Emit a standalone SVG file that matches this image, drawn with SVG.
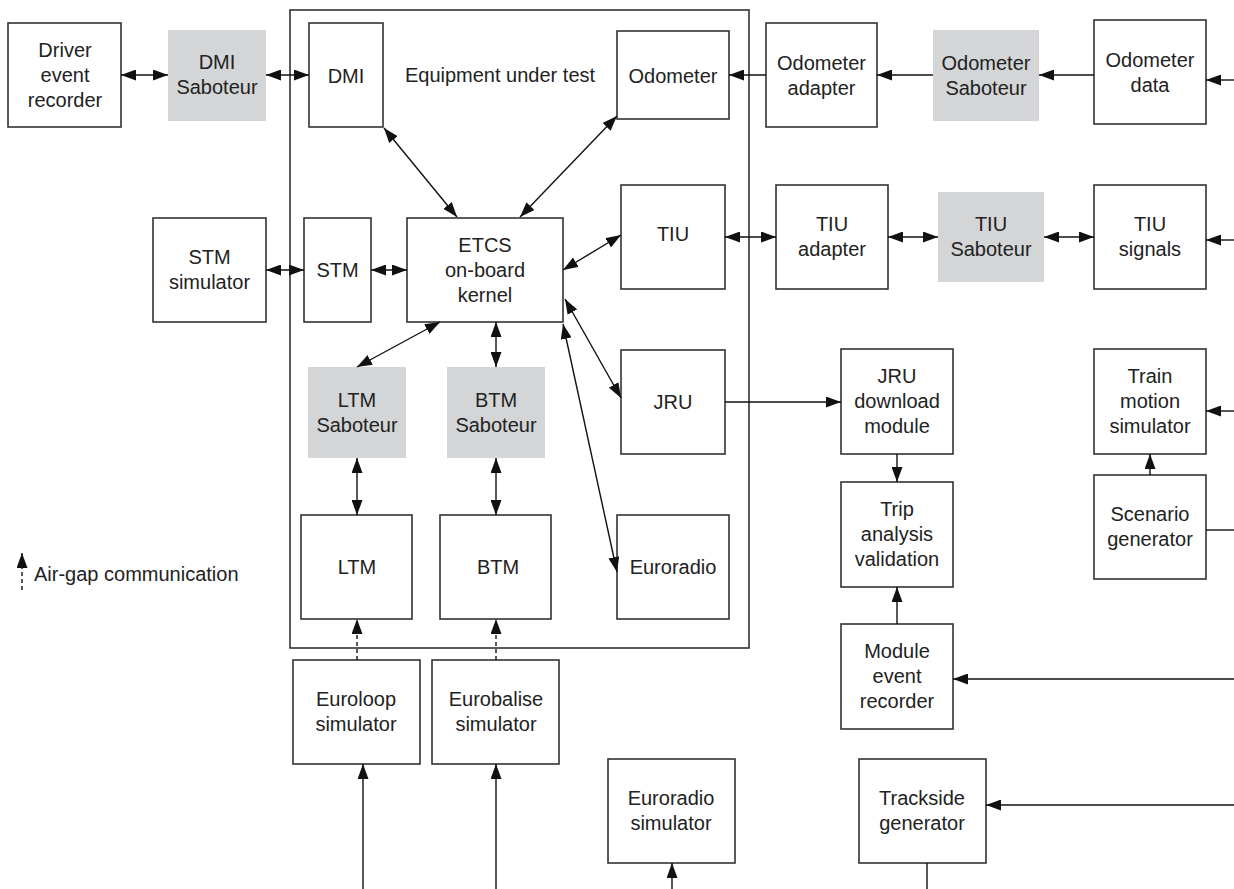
<svg xmlns="http://www.w3.org/2000/svg" width="1234" height="889" viewBox="0 0 1234 889">
<style>
.box{fill:#fff;stroke:#333;stroke-width:1.6}
.sab{fill:#d3d5d6;stroke:none}
.frame{fill:none;stroke:#333;stroke-width:1.6}
text{font-family:"Liberation Sans",Arial,sans-serif;font-size:20px;fill:#222;text-anchor:middle}
.c{stroke:#111;stroke-width:1.4;fill:none}
.d{stroke-dasharray:4 3}
</style>
<defs>
<marker id="ah" viewBox="0 0 15 11" refX="15" refY="5.5" markerWidth="15" markerHeight="11" markerUnits="userSpaceOnUse" orient="auto-start-reverse"><path d="M0,0 L15,5.5 L0,11 z" fill="#111"/></marker>
</defs>
<rect id="eut-frame" class="frame" x="290" y="10" width="459" height="638"/>
<text x="500" y="82">Equipment under test</text>
<g id="driver-event-recorder"><rect class="box" x="8" y="23" width="113" height="104"/><text x="65" y="57">Driver</text><text x="65" y="82">event</text><text x="65" y="107">recorder</text></g>
<g id="dmi-saboteur"><rect class="sab" x="168" y="30" width="98" height="91"/><text x="217" y="69">DMI</text><text x="217" y="94">Saboteur</text></g>
<g id="dmi"><rect class="box" x="309" y="23" width="74" height="104"/><text x="346" y="83">DMI</text></g>
<g id="odometer"><rect class="box" x="617" y="31" width="112" height="88"/><text x="673" y="83">Odometer</text></g>
<g id="odometer-adapter"><rect class="box" x="766" y="23" width="111" height="104"/><text x="821.5" y="70">Odometer</text><text x="821.5" y="95">adapter</text></g>
<g id="odometer-saboteur"><rect class="sab" x="933" y="30" width="106" height="91"/><text x="986" y="70">Odometer</text><text x="986" y="95">Saboteur</text></g>
<g id="odometer-data"><rect class="box" x="1094" y="20" width="112" height="104"/><text x="1150" y="67">Odometer</text><text x="1150" y="92">data</text></g>
<g id="stm-simulator"><rect class="box" x="153" y="218" width="113" height="104"/><text x="209.5" y="264">STM</text><text x="209.5" y="289">simulator</text></g>
<g id="stm"><rect class="box" x="304" y="218" width="67" height="104"/><text x="337.5" y="277">STM</text></g>
<g id="etcs-kernel"><rect class="box" x="407" y="218" width="156" height="104"/><text x="485" y="252">ETCS</text><text x="485" y="277">on-board</text><text x="485" y="302">kernel</text></g>
<g id="tiu"><rect class="box" x="621" y="185" width="104" height="104"/><text x="673" y="241">TIU</text></g>
<g id="tiu-adapter"><rect class="box" x="776" y="185" width="112" height="104"/><text x="832" y="231">TIU</text><text x="832" y="256">adapter</text></g>
<g id="tiu-saboteur"><rect class="sab" x="938" y="192" width="106" height="90"/><text x="991" y="231">TIU</text><text x="991" y="256">Saboteur</text></g>
<g id="tiu-signals"><rect class="box" x="1094" y="185" width="112" height="104"/><text x="1150" y="231">TIU</text><text x="1150" y="256">signals</text></g>
<g id="ltm-saboteur"><rect class="sab" x="308" y="367" width="98" height="91"/><text x="357" y="407">LTM</text><text x="357" y="432">Saboteur</text></g>
<g id="btm-saboteur"><rect class="sab" x="447" y="367" width="98" height="91"/><text x="496" y="407">BTM</text><text x="496" y="432">Saboteur</text></g>
<g id="jru"><rect class="box" x="621" y="350" width="104" height="104"/><text x="673" y="409">JRU</text></g>
<g id="jru-download"><rect class="box" x="841" y="349" width="112" height="105"/><text x="897" y="383">JRU</text><text x="897" y="408">download</text><text x="897" y="433">module</text></g>
<g id="train-motion"><rect class="box" x="1094" y="349" width="112" height="105"/><text x="1150" y="383">Train</text><text x="1150" y="408">motion</text><text x="1150" y="433">simulator</text></g>
<g id="trip-analysis"><rect class="box" x="841" y="482" width="112" height="105"/><text x="897" y="516">Trip</text><text x="897" y="541">analysis</text><text x="897" y="566">validation</text></g>
<g id="scenario-generator"><rect class="box" x="1094" y="475" width="112" height="104"/><text x="1150" y="521">Scenario</text><text x="1150" y="546">generator</text></g>
<g id="ltm"><rect class="box" x="301" y="515" width="111" height="104"/><text x="357" y="574">LTM</text></g>
<g id="btm"><rect class="box" x="440" y="515" width="111" height="104"/><text x="498" y="574">BTM</text></g>
<g id="euroradio"><rect class="box" x="617" y="515" width="112" height="104"/><text x="673" y="574">Euroradio</text></g>
<g id="module-event-recorder"><rect class="box" x="841" y="624" width="112" height="105"/><text x="897" y="658">Module</text><text x="897" y="683">event</text><text x="897" y="708">recorder</text></g>
<g id="euroloop-simulator"><rect class="box" x="293" y="660" width="127" height="104"/><text x="356" y="706">Euroloop</text><text x="356" y="731">simulator</text></g>
<g id="eurobalise-simulator"><rect class="box" x="432" y="660" width="127" height="104"/><text x="496" y="706">Eurobalise</text><text x="496" y="731">simulator</text></g>
<g id="euroradio-simulator"><rect class="box" x="608" y="759" width="127" height="104"/><text x="671" y="805">Euroradio</text><text x="671" y="830">simulator</text></g>
<g id="trackside-generator"><rect class="box" x="859" y="759" width="127" height="104"/><text x="922" y="805">Trackside</text><text x="922" y="830">generator</text></g>
<g id="legend"><path class="c d" d="M22,590 V553" marker-end="url(#ah)"/><text x="34" y="581" style="text-anchor:start">Air-gap communication</text></g>
<g id="connectors">
<path class="c" d="M121,75 H168" marker-start="url(#ah)" marker-end="url(#ah)"/>
<path class="c" d="M266,75 H309" marker-start="url(#ah)" marker-end="url(#ah)"/>
<path class="c" d="M766,75 H729" marker-end="url(#ah)"/>
<path class="c" d="M933,75 H877" marker-end="url(#ah)"/>
<path class="c" d="M1094,75 H1039" marker-end="url(#ah)"/>
<path class="c" d="M1234,80 H1206" marker-end="url(#ah)"/>
<path class="c" d="M384,128 L457,217" marker-start="url(#ah)" marker-end="url(#ah)"/>
<path class="c" d="M520,217 L617,116" marker-start="url(#ah)" marker-end="url(#ah)"/>
<path class="c" d="M266,270 H304" marker-start="url(#ah)" marker-end="url(#ah)"/>
<path class="c" d="M371,270 H407" marker-start="url(#ah)" marker-end="url(#ah)"/>
<path class="c" d="M563,270 L621,235" marker-start="url(#ah)" marker-end="url(#ah)"/>
<path class="c" d="M725,237 H776" marker-start="url(#ah)" marker-end="url(#ah)"/>
<path class="c" d="M888,237 H938" marker-start="url(#ah)" marker-end="url(#ah)"/>
<path class="c" d="M1044,237 H1094" marker-start="url(#ah)" marker-end="url(#ah)"/>
<path class="c" d="M1234,240 H1206" marker-end="url(#ah)"/>
<path class="c" d="M565,299 L621,398" marker-start="url(#ah)" marker-end="url(#ah)"/>
<path class="c" d="M563,324 L617,572" marker-start="url(#ah)" marker-end="url(#ah)"/>
<path class="c" d="M440,322 L357,367" marker-start="url(#ah)" marker-end="url(#ah)"/>
<path class="c" d="M496,322 V367" marker-start="url(#ah)" marker-end="url(#ah)"/>
<path class="c" d="M357,458 V515" marker-start="url(#ah)" marker-end="url(#ah)"/>
<path class="c" d="M496,458 V515" marker-start="url(#ah)" marker-end="url(#ah)"/>
<path class="c d" d="M357,660 V619" marker-end="url(#ah)"/>
<path class="c d" d="M496,660 V619" marker-end="url(#ah)"/>
<path class="c" d="M725,402 H841" marker-end="url(#ah)"/>
<path class="c" d="M897,454 V482" marker-end="url(#ah)"/>
<path class="c" d="M897,624 V587" marker-end="url(#ah)"/>
<path class="c" d="M1234,679 H953" marker-end="url(#ah)"/>
<path class="c" d="M1234,411 H1206" marker-end="url(#ah)"/>
<path class="c" d="M1150,475 V454" marker-end="url(#ah)"/>
<path class="c" d="M1206,530 H1234"/>
<path class="c" d="M363,889 V764" marker-end="url(#ah)"/>
<path class="c" d="M496,889 V764" marker-end="url(#ah)"/>
<path class="c" d="M672,889 V863" marker-end="url(#ah)"/>
<path class="c" d="M1234,805 H986" marker-end="url(#ah)"/>
<path class="c" d="M927,863 V889"/>
</g>
</svg>
